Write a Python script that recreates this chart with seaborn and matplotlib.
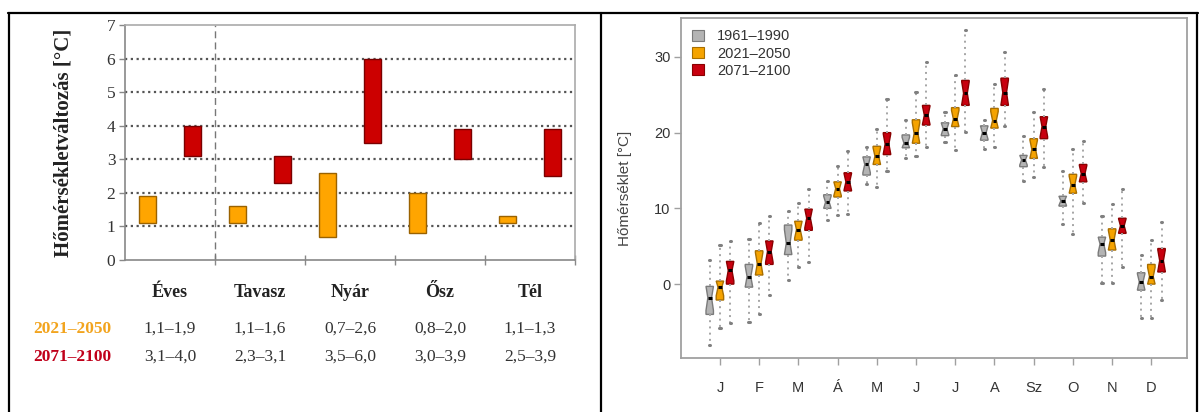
import numpy as np
import matplotlib
matplotlib.use("Agg")
import matplotlib.pyplot as plt
import seaborn as sns
from matplotlib.patches import Patch
from matplotlib.lines import Line2D

# ---------------- data: left panel (projected change ranges) ----------------
seasons = ["Éves", "Tavasz", "Nyár", "Ősz", "Tél"]
change_periods = ["2021–2050", "2071–2100"]
low_2021 = [1.1, 1.1, 0.7, 0.8, 1.1]
high_2021 = [1.9, 1.6, 2.6, 2.0, 1.3]
low_2071 = [3.1, 2.3, 3.5, 3.0, 2.5]
high_2071 = [4.0, 3.1, 6.0, 3.9, 3.9]
range_text_2021 = ["1,1–1,9", "1,1–1,6", "0,7–2,6", "0,8–2,0", "1,1–1,3"]
range_text_2071 = ["3,1–4,0", "2,3–3,1", "3,5–6,0", "3,0–3,9", "2,5–3,9"]
left_yticks = [0, 1, 2, 3, 4, 5, 6, 7]

# ---------------- data: right panel (monthly temperature boxplots) ----------
months = ["J", "F", "M", "Á", "M", "J", "J", "A", "Sz", "O", "N", "D"]
periods = ["1961–1990", "2021–2050", "2071–2100"]
right_yticks = [0, 10, 20, 30]

p1_lo = [-8.1, -5.0, 0.6, 8.4, 13.2, 16.6, 18.7, 17.8, 13.6, 7.9, 0.2, -4.5]
p1_q1 = [-4.0, -0.4, 3.9, 10.0, 14.4, 18.0, 19.6, 19.0, 15.5, 10.3, 3.7, -0.8]
p1_med = [-1.8, 1.0, 5.4, 10.8, 15.8, 18.6, 20.5, 20.0, 16.4, 11.0, 5.3, 0.3]
p1_q3 = [-0.3, 2.6, 7.8, 11.8, 16.8, 19.7, 21.3, 20.9, 17.0, 11.6, 6.2, 1.5]
p1_hi = [3.2, 5.9, 9.6, 13.6, 18.1, 21.7, 22.7, 21.7, 19.5, 15.0, 9.0, 3.8]

p2_lo = [-5.8, -3.9, 2.3, 9.1, 12.8, 16.9, 17.7, 18.1, 14.2, 6.6, 0.2, -4.5]
p2_q1 = [-2.1, 1.2, 5.8, 11.5, 15.8, 18.6, 20.8, 20.6, 16.6, 12.0, 4.5, 0.0]
p2_med = [-0.4, 2.7, 7.2, 12.6, 16.9, 19.9, 21.8, 21.6, 17.8, 13.1, 5.8, 1.0]
p2_q3 = [0.4, 4.4, 8.3, 13.5, 18.2, 21.7, 23.3, 23.2, 19.2, 14.5, 7.3, 2.6]
p2_hi = [5.2, 8.1, 10.7, 15.6, 20.5, 25.4, 27.6, 26.4, 22.7, 17.8, 10.6, 5.8]

p3_lo = [-5.1, -1.5, 2.9, 9.3, 15.0, 18.1, 20.1, 20.9, 15.4, 10.7, 2.3, -2.1]
p3_q1 = [0.0, 2.6, 7.1, 12.3, 17.1, 21.0, 23.6, 23.6, 19.2, 13.5, 6.7, 1.6]
p3_med = [1.8, 4.3, 8.7, 13.5, 18.5, 22.3, 25.2, 25.3, 20.8, 14.6, 7.7, 3.1]
p3_q3 = [3.0, 5.7, 9.9, 14.7, 20.0, 23.6, 26.9, 27.2, 22.1, 15.8, 8.7, 4.7]
p3_hi = [5.7, 9.0, 12.5, 17.6, 24.4, 29.3, 33.5, 30.6, 25.8, 18.9, 12.5, 8.2]

NOTCH_N = 12  # sample size used for the notch width (R formula)

# ---------------- styling ----------------
sns.set_theme(style="white")
plt.rcParams["font.family"] = ["Liberation Sans", "DejaVu Sans"]

ORANGE_FACE, ORANGE_EDGE = "#FFA500", "#9A6200"
RED_FACE, RED_EDGE = "#CC0000", "#7A0000"

fig = plt.figure(figsize=(12, 4.12), dpi=100)

# ---------------- left panel ----------------
axL = fig.add_axes([0.1042, 0.3689, 0.3750, 0.5704])
serif = ["Liberation Serif", "DejaVu Serif"]
x = np.arange(len(seasons))
lo21, hi21 = np.array(low_2021), np.array(high_2021)
lo71, hi71 = np.array(low_2071), np.array(high_2071)
axL.bar(x - 0.25, hi21 - lo21, bottom=lo21, width=0.18, color=ORANGE_FACE,
        edgecolor=ORANGE_EDGE, linewidth=1.0, zorder=3)
axL.bar(x + 0.25, hi71 - lo71, bottom=lo71, width=0.18, color=RED_FACE,
        edgecolor=RED_EDGE, linewidth=1.0, zorder=3)
axL.set_xlim(-0.5, len(seasons) - 0.5)
axL.set_ylim(0, 7)
for yv in left_yticks[1:-1]:
    axL.axhline(yv, color="#555555", linestyle=(0, (1, 1.6)), linewidth=1.6, zorder=1)
axL.axvline(0.5, color="#777777", linestyle=(0, (5, 3)), linewidth=1.0, zorder=1)
for s in axL.spines.values():
    s.set_color("#AAAAAA")
    s.set_linewidth(1.2)
axL.spines["left"].set_color("#888888")
axL.spines["bottom"].set_color("#888888")
axL.set_yticks(left_yticks)
axL.set_yticklabels([str(v) for v in left_yticks], fontfamily=serif, fontsize=12.5, color="#333333")
axL.tick_params(axis="y", direction="out", length=4, width=1, color="#888888", pad=3, left=True)
axL.set_xticks(x)
axL.set_xticklabels(seasons, fontfamily=serif, fontsize=13, fontweight="bold", color="#222222")
axL.tick_params(axis="x", which="major", length=0, pad=17)
axL.set_xticks(np.arange(len(seasons)) + 0.5, minor=True)
axL.tick_params(axis="x", which="minor", direction="inout", length=7, width=1, color="#888888", bottom=True)
axL.set_ylabel("Hőmérsékletváltozás [°C]", fontfamily=serif, fontsize=15,
               fontweight="bold", color="#222222", labelpad=24)
trL = axL.get_xaxis_transform()
axL.text(-1.09, -0.294, change_periods[0], transform=trL, ha="center", va="center",
         fontfamily=serif, fontsize=12.5, fontweight="bold", color="#F2A41E")
axL.text(-1.09, -0.413, change_periods[1], transform=trL, ha="center", va="center",
         fontfamily=serif, fontsize=12.5, fontweight="bold", color="#C0001A")
for i in range(len(seasons)):
    axL.text(x[i], -0.294, range_text_2021[i], transform=trL, ha="center", va="center",
             fontfamily=serif, fontsize=12.5, color="#333333")
    axL.text(x[i], -0.413, range_text_2071[i], transform=trL, ha="center", va="center",
             fontfamily=serif, fontsize=12.5, color="#333333")

# ---------------- right panel ----------------
axR = fig.add_axes([0.5679, 0.1303, 0.4213, 0.8253])
period_data = [
    (p1_lo, p1_q1, p1_med, p1_q3, p1_hi),
    (p2_lo, p2_q1, p2_med, p2_q3, p2_hi),
    (p3_lo, p3_q1, p3_med, p3_q3, p3_hi),
]
faces = ["#B4B4B4", "#F5A300", "#C8000F"]
edges = ["#7A7A7A", "#A86E00", "#8A0000"]
offsets = [-0.26, 0.0, 0.26]
xm = np.arange(len(months))
for (lo, q1, med, q3, hi), off, fc, ec in zip(period_data, offsets, faces, edges):
    stats = []
    for i in range(len(months)):
        half = 1.58 * (q3[i] - q1[i]) / np.sqrt(NOTCH_N)
        stats.append(dict(med=med[i], q1=q1[i], q3=q3[i], whislo=lo[i], whishi=hi[i],
                          cilo=max(med[i] - half, q1[i]), cihi=min(med[i] + half, q3[i]),
                          fliers=[]))
    axR.bxp(stats, positions=xm + off, widths=0.19, patch_artist=True,
            shownotches=True, showfliers=False, manage_ticks=False, capwidths=0.03,
            boxprops=dict(facecolor=fc, edgecolor=ec, linewidth=1.0),
            medianprops=dict(color="black", linewidth=2.2),
            whiskerprops=dict(color="#A5A5A5", linestyle=(0, (1, 2.2)), linewidth=1.4),
            capprops=dict(color="#808080", linewidth=2.2))
axR.set_xlim(-0.98, 11.91)
axR.set_ylim(-9.8, 35.1)
for s in axR.spines.values():
    s.set_color("#A0A0A0")
    s.set_linewidth(1.3)
axR.set_xticks(xm)
axR.set_xticklabels(months, fontsize=10.5, color="#333333")
axR.set_yticks(right_yticks)
axR.set_yticklabels([str(v) for v in right_yticks], fontsize=10.5, color="#333333")
axR.tick_params(axis="both", direction="out", length=5, width=1, color="#A0A0A0",
                bottom=True, left=True)
axR.tick_params(axis="x", pad=11)
axR.tick_params(axis="y", pad=3)
axR.set_ylabel("Hőmérséklet [°C]", fontsize=11, color="#444444", labelpad=16)
handles = [Patch(facecolor=f, edgecolor=e, linewidth=0.8) for f, e in zip(faces, edges)]
axR.legend(handles, periods, loc="upper left", bbox_to_anchor=(0.0, 1.0), frameon=False,
           fontsize=10.5, handlelength=0.8, handleheight=0.8, handletextpad=0.9,
           labelspacing=0.23, borderaxespad=0.35, labelcolor="#333333")

# ---------------- table frame lines ----------------
def fx(px):
    return px / 1200.0

def fy(py):
    return 1.0 - py / 412.0

frame_kw = dict(color="black", linewidth=1.6, transform=fig.transFigure)
fig.add_artist(Line2D([fx(8), fx(1198)], [fy(13), fy(13)], **frame_kw))
fig.add_artist(Line2D([fx(9), fx(9)], [fy(13), fy(412)], **frame_kw))
fig.add_artist(Line2D([fx(601), fx(601)], [fy(13), fy(412)], **frame_kw))
fig.add_artist(Line2D([fx(1197), fx(1197)], [fy(13), fy(412)], **frame_kw))

fig.savefig("out.png", dpi=100, facecolor="white")
